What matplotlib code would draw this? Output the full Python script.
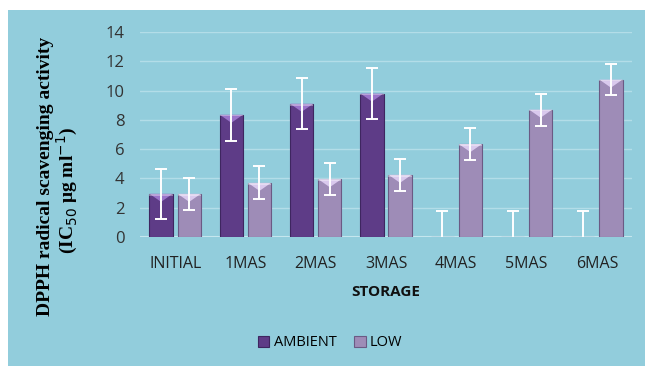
import numpy as np
import matplotlib.pyplot as plt
from matplotlib.patches import Rectangle, Polygon

categories = ["INITIAL", "1MAS", "2MAS", "3MAS", "4MAS", "5MAS", "6MAS"]
ambient = [2.95, 8.35, 9.1, 9.8, 0, 0, 0]
ambient_err = [1.72, 1.78, 1.75, 1.72, 1.75, 1.75, 1.75]
low = [2.95, 3.7, 3.95, 4.25, 6.35, 8.7, 10.75]
low_err = [1.1, 1.12, 1.1, 1.1, 1.1, 1.1, 1.08]

panel_bg = "#92cddc"
amb_col = "#5e3c87"
low_col = "#9e8cb7"

W, H = 645, 368
fig = plt.figure(figsize=(6.45, 3.68), dpi=100)
fig.patch.set_facecolor("white")
# light blue chart area sitting on a white page
fig.add_artist(Rectangle((8 / W, 0.005), 1, 1 - 10 / H - 0.005,
                         transform=fig.transFigure, facecolor=panel_bg,
                         edgecolor="none", zorder=0))

ax = fig.add_axes([140 / W, 1 - 237 / H, 492 / W, 205 / H])
ax.set_facecolor("none")

x = np.arange(len(categories))
w = 0.33
off = 0.2

bars_a = ax.bar(x - off, ambient, w, color=amb_col, edgecolor="#3e2660",
                linewidth=0.8, zorder=3, label="AMBIENT")
bars_l = ax.bar(x + off, low, w, color=low_col, edgecolor="#6b5a84",
                linewidth=0.8, zorder=3, label="LOW")

# bevel highlight on top of each bar
def bevel(bars, hi):
    for b in bars:
        h = b.get_height()
        if h <= 0:
            continue
        x0, bw = b.get_x(), b.get_width()
        d = 0.55
        tri = Polygon([(x0, h), (x0 + bw, h), (x0 + bw / 2, h - d)],
                      closed=True, facecolor=hi, edgecolor="none",
                      alpha=0.85, zorder=4)
        ax.add_patch(tri)
        ax.add_patch(Rectangle((x0, h - 0.12), bw, 0.12, facecolor="white",
                               edgecolor="none", alpha=0.35, zorder=4))

bevel(bars_a, "#a57fd6")
bevel(bars_l, "#e4d4f7")

ax.errorbar(x - off, ambient, yerr=ambient_err, fmt="none", ecolor="white",
            elinewidth=1.4, capsize=4, capthick=1.4, zorder=5)
ax.errorbar(x + off, low, yerr=low_err, fmt="none", ecolor="white",
            elinewidth=1.4, capsize=4, capthick=1.4, zorder=5)

ax.set_ylim(0, 14)
ax.set_xlim(-0.5, len(categories) - 0.5)
ax.set_yticks(range(0, 15, 2))
ax.yaxis.grid(True, color="#b3dde8", linewidth=1.0, zorder=1)
ax.axhline(0, color="#c5e6ee", linewidth=1.5, zorder=2)
for s in ax.spines.values():
    s.set_visible(False)
ax.tick_params(length=0, labelsize=12, colors="#333333", pad=11)
ax.tick_params(axis="x", pad=14)
ax.set_xticks(x)
ax.set_xticklabels(categories, fontfamily="Open Sans", fontsize=11.5,
                   color="#222222")
for t in ax.get_yticklabels():
    t.set_fontfamily("Open Sans")

ax.set_xlabel("STORAGE", fontsize=11, fontweight="bold",
              fontfamily="Open Sans", labelpad=9, color="#111111")

# two-line y title, drawn as separate texts
fig.text(46 / W, 1 - 176 / H, "DPPH radical scavenging activity",
         rotation=90, ha="center", va="center", fontsize=14,
         fontweight="bold", family="Liberation Serif")
fig.text(67 / W, 1 - 190 / H, "(IC$_{50}$ \u03bcg ml$^{-1}$)",
         rotation=90, ha="center", va="center", fontsize=14,
         fontweight="bold", family="Liberation Serif")

fig.legend(handles=[bars_a, bars_l], loc="center",
           bbox_to_anchor=(330 / W, 1 - 343 / H), ncol=2,
           frameon=False, handlelength=0.8, handleheight=0.8,
           columnspacing=1.2, handletextpad=0.3,
           prop={"family": "Open Sans", "size": 10.5})

fig.savefig("out.png", dpi=100, facecolor=fig.get_facecolor())
